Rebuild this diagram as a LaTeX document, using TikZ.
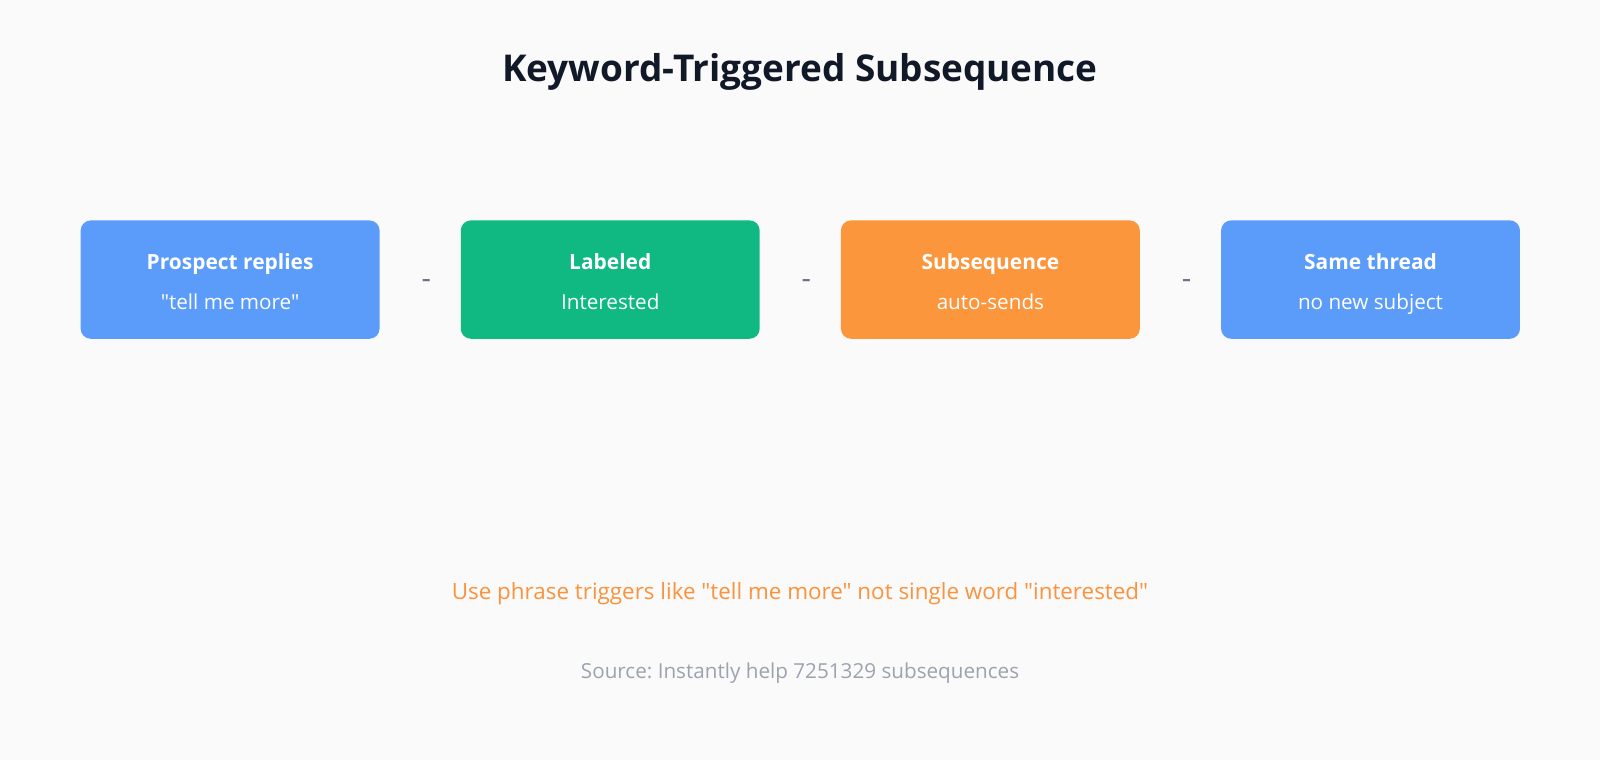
\documentclass[tikz,border=0pt]{standalone}
\usepackage{fontspec}
\setmainfont{Open Sans}[Ligatures=TeXOff]
\usetikzlibrary{positioning,calc}
\definecolor{bgcol}{HTML}{FAFAFA}
\definecolor{titlecol}{HTML}{111827}
\definecolor{bluebox}{HTML}{5B9CFB}
\definecolor{greenbox}{HTML}{10B981}
\definecolor{orangebox}{HTML}{FC963D}
\definecolor{dashcol}{HTML}{6B7280}
\definecolor{notecol}{HTML}{FB923C}
\definecolor{srccol}{HTML}{9CA3AF}
\frenchspacing
\begin{document}
\begin{tikzpicture}[x=0.7653pt,y=-0.7653pt]

        \tikzset{
            stepbox/.style={rounded corners=7.65pt, minimum width=224.2pt,
                minimum height=88.8pt, inner sep=0pt},
            head/.style={anchor=base, text=white,
                font=\fontsize{15.7}{18}\selectfont\bfseries},
            sub/.style={anchor=base, text=white,
                font=\fontsize{15.5}{18}\selectfont},
            sep/.style={text=dashcol, font=\fontsize{22}{24}\selectfont}
        }

        \fill[bgcol] (0,0) rectangle (1568,745);
        \useasboundingbox (0,0) rectangle (1568,745);

        \node[text=titlecol, font=\fontsize{27.7}{32}\selectfont\bfseries]
        (title) at (784,70) {Keyword-Triggered Subsequence};

        % the four steps
        \node[stepbox, fill=bluebox] (reply) at (225.5,274) {};
        \node[stepbox, fill=greenbox, right=60.5pt of reply] (label) {};
        \node[stepbox, fill=orangebox, right=60.5pt of label] (subseq) {};
        \node[stepbox, fill=bluebox, right=60.5pt of subseq] (thread) {};

        \node[head] at ([yshift=7.2pt]reply.center) {Prospect replies};
        \node[sub] at ([yshift=-22.8pt]reply.center) {"tell me more"};
        \node[head] at ([yshift=7.2pt]label.center) {Labeled};
        \node[sub] at ([yshift=-22.8pt]label.center) {Interested};
        \node[head] at ([yshift=7.2pt]subseq.center) {Subsequence};
        \node[sub] at ([yshift=-22.8pt]subseq.center) {auto-sends};
        \node[head] at ([yshift=7.2pt]thread.center) {Same thread};
        \node[sub] at ([yshift=-22.8pt]thread.center) {no new subject};

        \node[sep] (d1) at ($(reply.east)!0.5!(label.west)+(6,4)$) {-};
        \node[sep] (d2) at ($(label.east)!0.5!(subseq.west)+(6,4)$) {-};
        \node[sep] (d3) at ($(subseq.east)!0.5!(thread.west)+(6,4)$) {-};

        \node[text=notecol, font=\fontsize{16.8}{20}\selectfont]
        (note) at (784,582) {Use phrase triggers like "tell me more" not single word "interested"};
        \node[text=srccol, font=\fontsize{15.5}{18}\selectfont]
        (source) at (784,660) {Source: Instantly help 7251329 subsequences};

    \end{tikzpicture}
\end{document}
